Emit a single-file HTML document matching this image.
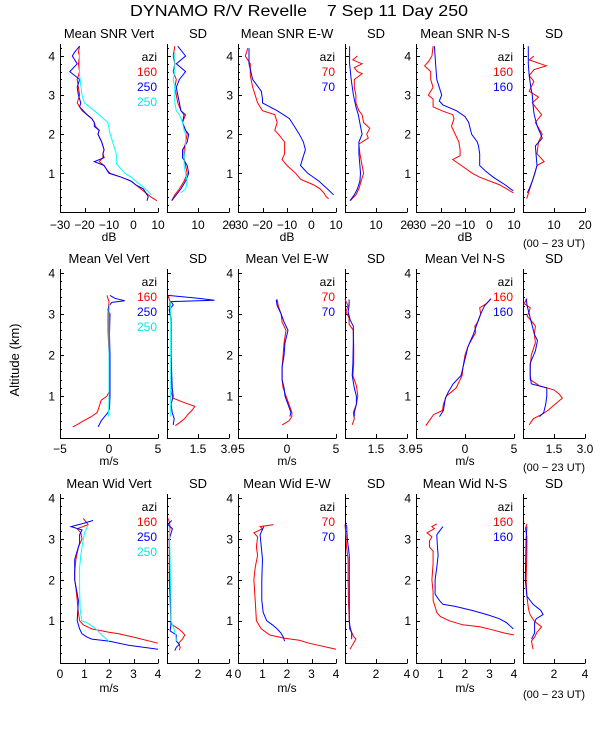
<!DOCTYPE html>
<html><head><meta charset="utf-8"><style>
html,body{margin:0;padding:0;background:#fff;}
svg{display:block;font-family:"Liberation Sans",sans-serif;}
</style></head><body>
<svg id="chart" width="600" height="750" viewBox="0 0 600 750" xmlns="http://www.w3.org/2000/svg">
<rect width="600" height="750" fill="#fff"/>
<text x="130" y="16" font-size="16" style="white-space:pre" textLength="338" lengthAdjust="spacingAndGlyphs">DYNAMO R/V Revelle    7 Sep 11 Day 250</text>
<text transform="translate(19,360) rotate(-90)" text-anchor="middle" font-size="13">Altitude (km)</text>
</svg>
<script>
// ---------- data: altitude (km) arrays and value arrays ----------
// Row 1: SNR (dB) and SD
const snrVertAlt160=[4.25,4.1,4.0,3.8,3.6,3.4,3.2,3.0,2.8,2.7,2.6,2.5,2.4,2.3,2.2,2.1,2.0,1.8,1.6,1.5,1.4,1.3,1.2,1.1,1.0,0.9,0.8,0.7,0.6,0.5,0.4,0.3];
const snrVert160=[-22,-22.5,-22,-22.5,-22,-23,-22.5,-22,-23,-22,-21,-19,-17,-16,-15.5,-14,-14.5,-13,-12,-12.5,-12.5,-14,-12,-11,-9.5,-5,-1,1,3,5,7,9.5];
const snrVertAlt250=[4.25,4.1,4.0,3.8,3.6,3.4,3.2,3.0,2.8,2.7,2.6,2.5,2.4,2.3,2.2,2.1,2.0,1.8,1.6,1.5,1.4,1.3,1.2,1.1,1.0,0.9,0.8,0.7,0.6,0.5,0.4,0.3];
const snrVert250=[-22,-24,-25,-23,-26,-22,-23,-22.5,-21.5,-22,-20.5,-19,-17,-16,-16,-14,-14.5,-13,-12,-12.5,-12,-16,-12,-11,-10,-5,-1,1,4,5,6,5.5];
const snrVertAltC=[4.1,3.5,3.0,2.8,2.7,2.6,2.5,2.3,2.0,1.7,1.5,1.25,1.1,1.0,0.9,0.8,0.65,0.5,0.45];
const snrVertC=[-22,-22,-21,-20,-18,-16,-14,-10.5,-9.5,-8,-7,-7,-5,-3.5,-1,1,4,6.5,7.3];
const sdVertAlt160=[4.25,4.0,3.8,3.6,3.4,3.2,3.0,2.8,2.6,2.5,2.3,2.1,2.0,1.8,1.6,1.4,1.2,1.0,0.8,0.6,0.45,0.3];
const sdVert160=[2.5,2,2.5,2,3,2.5,3,3.5,4.5,6,5,6,6.5,6,5.5,5.5,6,6.5,5.5,4,2.5,1.5];
const sdVert250=[3.5,6,3,6,4,3,3.5,4,4.5,5.5,5,6,7,6.5,5,5,6.5,7,6,4.5,3,1.5];
const sdVertAltC=[4.1,3.8,3.6,3.4,3.2,3.0,2.8,2.6,2.5,2.3,2.1,2.0,1.8,1.6,1.4,1.2,1.0,0.8,0.6,0.5];
const sdVertC=[2.5,2.5,2.5,2,2.5,2.5,2.5,3,4,5,5.5,6,6,6,5.5,5.5,6,6.5,6,4.5];
const snrEWAltR=[4.2,4.0,3.8,3.5,3.2,3.0,2.8,2.6,2.5,2.3,2.1,2.0,1.8,1.5,1.35,1.2,1.0,0.85,0.7,0.6,0.5,0.4,0.35];
const snrEWR=[-26,-27,-25,-25,-24,-23,-22,-20,-15,-14,-15,-13.5,-11,-11,-12,-10,-6.5,-4.5,1,3.5,5,6,7];
const snrEWAltB=[4.2,3.8,3.4,3.1,2.9,2.8,2.6,2.4,2.2,2.0,1.8,1.6,1.4,1.2,1.1,1.0,0.8,0.6,0.45];
const snrEWB=[-25.5,-25.5,-24,-20.5,-20,-20,-14,-9,-7,-5,-3.3,-2.5,-3.5,-4.5,-3,-1.5,3,6.5,9];
const sdEWAltR=[4.0,3.9,3.8,3.7,3.6,3.55,3.4,3.2,3.0,2.8,2.6,2.5,2.3,2.15,2.0,1.9,1.75,1.5,1.2,1.0,0.8,0.6,0.45,0.3];
const sdEWR=[4,2.5,5.5,3,4,5.5,3,3,3.5,3.5,4.5,5.5,6,8,7,7.5,4.5,4.8,5.5,6,5.2,4.5,3.5,1.7];
const sdEWAltB=[4.25,3.8,3.4,3.0,2.7,2.5,2.2,2.0,1.8,1.5,1.2,1.0,0.8,0.6,0.45,0.3];
const sdEWB=[1.5,1.5,2,2.7,3.5,4.3,5,5.5,4.5,4.5,4.8,5,4.8,4,3,1.6];
const snrNSAltR=[4.25,4.0,3.85,3.75,3.6,3.4,3.2,3.0,2.9,2.7,2.6,2.5,2.4,2.2,2.0,1.8,1.6,1.45,1.35,1.2,1.0,0.9,0.7,0.5];
const snrNSR=[-23,-23.5,-25,-26.5,-24,-24,-23,-25,-23,-23,-19.5,-15,-14.5,-15.5,-14,-12.5,-12,-12,-15,-11.5,-7,-4,4.3,9.7];
const snrNSAltB=[4.25,3.8,3.4,3.1,3.0,2.85,2.75,2.6,2.45,2.3,2.0,1.8,1.7,1.5,1.2,1.05,0.9,0.8,0.7,0.55];
const snrNSB=[-22.5,-22,-21.5,-20,-19.5,-20.5,-19,-13.5,-10,-8.5,-7.3,-5,-4.5,-4,-4,-1.5,1.5,4,6.5,9.7];
const sdNSAltR=[4.0,3.9,3.75,3.65,3.5,3.35,3.1,2.95,2.8,2.5,2.3,2.0,1.8,1.5,1.3,1.2,1.0,0.8,0.6,0.35];
const sdNSR=[3.5,2,7.5,3.5,2,3.5,2,5,3,6,4,6.2,5,4.5,6.8,4.5,3.8,3,2.2,1.2];
const sdNSAltB=[4.25,3.8,3.5,3.2,3.0,2.7,2.5,2.2,2.0,1.9,1.7,1.5,1.2,1.0,0.8,0.6,0.5];
const sdNSB=[1.7,1.7,2,2.5,3,3.3,3.6,4.6,5.7,6.2,4,4.2,4.5,3.8,3,2,1.4];
// Row 2: velocity (m/s) and SD
const velVertAltR=[3.45,3.3,3.0,2.6,2.0,1.5,1.1,1.0,0.9,0.75,0.6,0.5,0.4,0.3,0.25];
const velVertR=[-0.2,0,-0.1,-0.1,0,0,0,-0.2,-0.8,-1,-1.2,-1.8,-2.6,-3.3,-3.7];
const velVertAltB=[3.45,3.38,3.32,3.28,3.2,3.1,3.0,2.5,2.0,1.5,1.0,0.7,0.6,0.5,0.4,0.25];
const velVertB=[0.1,0.6,1.6,0.3,0,-0.1,0.1,0.05,0.1,0.1,0.1,0.05,-0.1,-0.45,-0.8,-1.1];
const velVertAltC=[3.33,3.0,2.0,1.0,0.5];
const velVertC=[0.05,0,0,0,-0.05];
const vsdVertAltR=[3.45,3.3,3.1,2.8,2.0,1.5,1.1,0.95,0.85,0.75,0.65,0.55,0.45,0.35,0.28];
const vsdVertR=[0.05,0.15,0.12,0.2,0.2,0.2,0.2,0.3,0.8,1.35,1.2,1.0,0.85,0.6,0.4];
const vsdVertAltB=[3.45,3.38,3.33,3.3,3.22,3.1,2.9,2.0,1.2,1.0,0.8,0.6,0.45,0.3];
const vsdVertB=[0.05,1.5,2.3,0.2,0.3,0.1,0.2,0.2,0.25,0.3,0.2,0.25,0.35,0.3];
const vsdVertAltC=[3.3,2.0,1.0,0.5];
const vsdVertC=[0.18,0.18,0.18,0.18];
const velEWAltR=[3.35,3.2,3.0,2.8,2.6,2.3,2.0,1.7,1.4,1.2,1.0,0.8,0.6,0.5,0.4,0.3];
const velEWR=[-1,-0.9,-0.6,-0.5,-0.1,-0.3,-0.4,-0.5,-0.5,-0.4,-0.1,0.2,0.5,0.5,0.2,-0.5];
const velEWAltB=[3.35,3.2,3.0,2.8,2.6,2.3,2.0,1.7,1.4,1.2,1.0,0.8,0.6,0.5];
const velEWB=[-1.1,-1,-0.6,-0.3,0.1,-0.2,-0.3,-0.5,-0.5,-0.3,-0.2,0.1,0.4,0.3];
const vsdEWAltR=[3.35,3.2,3.05,2.9,2.75,2.6,2.2,1.8,1.5,1.25,1.0,0.8,0.6,0.45,0.3];
const vsdEWR=[0.0,0.15,0.05,0.2,0.2,0.4,0.42,0.42,0.38,0.55,0.62,0.55,0.4,0.45,0.35];
const vsdEWAltB=[3.35,3.2,3.05,2.85,2.7,2.3,1.8,1.5,1.2,1.0,0.8,0.6,0.5];
const vsdEWB=[0.2,0.2,0.15,0.25,0.4,0.4,0.38,0.35,0.45,0.55,0.55,0.45,0.45];
const velNSAltR=[3.37,3.25,3.15,3.0,2.8,2.7,2.55,2.3,2.2,2.0,1.7,1.5,1.4,1.2,1.0,0.8,0.65,0.55,0.45,0.35,0.28];
const velNSR=[2.65,2.2,1.5,1.6,1.3,1.0,1.1,0.5,0.3,0,-0.2,-0.3,-0.5,-0.9,-1.9,-2.2,-2.3,-3.2,-3.5,-3.8,-4];
const velNSAltB=[3.37,3.2,3.0,2.8,2.5,2.2,2.0,1.7,1.5,1.3,1.1,0.95,0.8,0.65,0.5];
const velNSB=[2.65,2.0,1.6,1.3,0.85,0.3,0.1,-0.2,-0.4,-1.2,-1.7,-2,-2.1,-2.2,-2.6];
const vsdNSAltR=[3.37,3.25,3.15,3.05,2.95,2.8,2.7,2.5,2.3,2.0,1.7,1.4,1.25,1.15,1.05,0.95,0.8,0.65,0.55,0.45,0.3];
const vsdNSR=[0.2,0.05,0.35,0.3,0.2,0.45,0.6,0.55,0.6,0.4,0.35,0.35,0.8,1.5,1.75,1.9,1.55,1.2,0.9,0.5,0.3];
const vsdNSAltB=[3.37,3.2,3.0,2.8,2.5,2.35,2.1,1.8,1.5,1.3,1.2,1.0,0.8,0.6,0.5];
const vsdNSB=[0.15,0.2,0.3,0.4,0.55,0.7,0.6,0.35,0.35,0.4,1.15,1.15,1.1,1.0,0.8];
// Row 3: width (m/s) and SD
const widVertAltR=[3.5,3.35,3.25,3.15,3.0,2.8,2.5,2.2,2.0,1.8,1.5,1.2,1.0,0.9,0.8,0.72,0.68,0.6,0.45];
const widVertR=[0.95,1.15,0.7,0.85,0.9,0.75,0.65,0.6,0.6,0.65,0.7,0.75,0.8,0.95,1.3,2,2.4,3.0,4.0];
const widVertAltB=[3.45,3.38,3.3,3.22,3.1,2.9,2.5,2.0,1.5,1.0,0.8,0.68,0.6,0.55,0.5,0.4,0.3];
const widVertB=[1.35,0.95,0.45,0.9,0.8,0.8,0.6,0.6,0.75,0.7,0.8,0.9,1.1,1.3,2.0,2.8,4.0];
const widVertAltC=[3.35,3.15,2.8,2.6,2.3,1.8,1.3,1.0,0.95,0.85,0.75,0.65,0.5];
const widVertC=[1.15,1.0,0.9,0.85,0.8,0.8,0.82,0.88,1.1,1.35,1.55,1.7,2.0];
const wsdVertAltR=[3.5,3.3,3.1,2.5,2.0,1.5,1.0,0.9,0.8,0.72,0.65,0.55,0.45,0.35,0.28];
const wsdVertR=[0.1,0.2,0.15,0.15,0.15,0.2,0.25,0.35,0.75,1.0,1.15,1.0,0.75,0.85,0.8];
const wsdVertAltB=[3.45,3.35,3.25,3.0,2.0,1.1,0.9,0.75,0.65,0.5,0.42,0.35,0.27];
const wsdVertB=[0.3,0.05,0.35,0.15,0.2,0.25,0.25,0.2,0.6,0.6,0.8,0.6,0.5];
const wsdVertAltC=[3.3,2.5,1.5,1.0,0.8,0.65,0.5];
const wsdVertC=[0.15,0.2,0.25,0.25,0.45,0.55,0.6];
const widEWAltR=[3.35,3.3,3.25,3.15,3.05,2.8,2.6,2.3,2.0,1.5,1.0,0.8,0.65,0.57,0.52,0.45,0.3];
const widEWR=[1.45,0.9,1.0,0.65,0.8,0.75,0.8,0.7,0.65,0.7,0.75,0.95,1.3,1.9,2.5,2.9,4.0];
const widEWAltB=[3.3,3.1,2.8,2.5,2.0,1.5,1.2,1.0,0.9,0.8,0.7,0.6,0.5];
const widEWB=[1.05,0.9,0.95,1.0,0.97,0.97,1.03,1.17,1.4,1.6,1.75,1.85,1.9];
const wsdEWAltR=[3.35,3.1,2.8,2.5,2.0,1.5,1.0,0.8,0.7,0.62,0.55,0.45,0.3];
const wsdEWR=[0.0,0.05,0.1,0.2,0.2,0.22,0.28,0.3,0.45,0.55,0.7,0.55,0.32];
const wsdEWAltB=[3.35,3.0,2.6,2.0,1.5,1.0,0.85,0.7,0.55];
const wsdEWB=[0.1,0.15,0.28,0.28,0.28,0.28,0.32,0.43,0.43];
const widNSAltR=[3.37,3.3,3.25,3.15,3.05,2.95,2.8,2.7,2.4,2.0,1.7,1.5,1.3,1.2,1.1,1.0,0.9,0.85,0.78,0.7,0.65];
const widNSR=[0.85,0.65,0.75,0.45,0.65,0.55,0.55,0.7,0.7,0.65,0.7,0.7,0.8,0.85,1.0,1.35,1.9,2.6,3.1,3.6,4.0];
const widNSAltB=[3.3,3.1,2.85,2.6,2.3,2.0,1.65,1.5,1.4,1.35,1.25,1.15,1.05,0.95,0.8];
const widNSB=[1.1,0.85,0.87,0.9,0.85,0.78,0.78,0.95,1.1,1.6,2.3,2.9,3.4,3.7,3.97];
const wsdNSAltR=[3.37,3.25,3.05,2.7,2.0,1.6,1.3,1.15,1.0,0.95,0.85,0.72,0.6,0.5,0.3];
const wsdNSR=[0.25,0.15,0.25,0.25,0.2,0.25,0.35,0.45,0.7,0.85,1.2,0.9,0.75,0.55,0.65];
const wsdNSAltB=[3.3,3.0,2.0,1.6,1.4,1.25,1.15,1.05,0.95,0.7,0.55];
const wsdNSB=[0.25,0.2,0.15,0.25,0.65,1.15,1.3,0.85,0.75,0.75,0.55];

// tick values and labels
const yTicks=[1,2,3,4];
const snrTicks=[-30,-20,-10,0,10];
const snrTickLabels=['\u221230','\u221220','\u221210','0','10'];
const snrSdTicks=[10,20];
const snrSdTickLabels=['10','20'];
const velTicks=[-5,0,5];
const velTickLabels=['\u22125','0','5'];
const velSdTicks=[1.5,3.0];
const velSdTickLabels=['1.5','3.0'];
const widTicks=[0,1,2,3,4];
const widTickLabels=['0','1','2','3','4'];
const widSdTicks=[2,4];
const widSdTickLabels=['2','4'];

// ---------- layout ----------
const svg=document.getElementById('chart');
const NS='http://www.w3.org/2000/svg';
const colX=[[60,158],[167,229],[238,336],[345,407],[416,514],[523,585]];
const rows=[
 {top:44,bot:212,z:212.4,k:39.1,titleY:38,tickY:229,unitY:241,utY:247,leg:57,
  titles:['Mean SNR Vert','SD','Mean SNR E-W','SD','Mean SNR N-S','SD'],unit:'dB'},
 {top:269,bot:438,z:437.2,k:41.1,titleY:263,tickY:453,unitY:465,utY:471,leg:282,
  titles:['Mean Vel Vert','SD','Mean Vel E-W','SD','Mean Vel N-S','SD'],unit:'m/s'},
 {top:494,bot:663,z:661.6,k:40.9,titleY:488,tickY:678,unitY:692,utY:698,leg:507,
  titles:['Mean Wid Vert','SD','Mean Wid E-W','SD','Mean Wid N-S','SD'],unit:'m/s'}];
const domains=[[[-30,10],[0,20]],[[-5,5],[0,3]],[[0,4],[0,4]]];
const tickSets=[[snrTicks,snrSdTicks],[velTicks,velSdTicks],[widTicks,widSdTicks]];
const tickLabelSets=[[snrTickLabels,snrSdTickLabels],[velTickLabels,velSdTickLabels],[widTickLabels,widSdTickLabels]];
const legends=[[['160','250','250'],['70','70'],['160','160']],[['160','250','250'],['70','70'],['160','160']],[['160','250','250'],['70','70'],['160','160']]];
const legColors=['#ff0000','#0000ff','#00e8e8'];
const series=[
 [[[snrVertAlt160,snrVert160,0],[snrVertAlt250,snrVert250,1],[snrVertAltC,snrVertC,2]],
  [[sdVertAlt160,sdVert160,0],[sdVertAlt160,sdVert250,1],[sdVertAltC,sdVertC,2]],
  [[snrEWAltR,snrEWR,0],[snrEWAltB,snrEWB,1]],
  [[sdEWAltR,sdEWR,0],[sdEWAltB,sdEWB,1]],
  [[snrNSAltR,snrNSR,0],[snrNSAltB,snrNSB,1]],
  [[sdNSAltR,sdNSR,0],[sdNSAltB,sdNSB,1]]],
 [[[velVertAltR,velVertR,0],[velVertAltB,velVertB,1],[velVertAltC,velVertC,2]],
  [[vsdVertAltR,vsdVertR,0],[vsdVertAltB,vsdVertB,1],[vsdVertAltC,vsdVertC,2]],
  [[velEWAltR,velEWR,0],[velEWAltB,velEWB,1]],
  [[vsdEWAltR,vsdEWR,0],[vsdEWAltB,vsdEWB,1]],
  [[velNSAltR,velNSR,0],[velNSAltB,velNSB,1]],
  [[vsdNSAltR,vsdNSR,0],[vsdNSAltB,vsdNSB,1]]],
 [[[widVertAltR,widVertR,0],[widVertAltB,widVertB,1],[widVertAltC,widVertC,2]],
  [[wsdVertAltR,wsdVertR,0],[wsdVertAltB,wsdVertB,1],[wsdVertAltC,wsdVertC,2]],
  [[widEWAltR,widEWR,0],[widEWAltB,widEWB,1]],
  [[wsdEWAltR,wsdEWR,0],[wsdEWAltB,wsdEWB,1]],
  [[widNSAltR,widNSR,0],[widNSAltB,widNSB,1]],
  [[wsdNSAltR,wsdNSR,0],[wsdNSAltB,wsdNSB,1]]]];
const lineColors=['#ff0000','#0000ff','#00ffff'];
const seriesNames=['azi-160-a','azi-250-b','azi-250-c'];

function el(tag,attrs,parent,text){
  const e=document.createElementNS(NS,tag);
  for(const k in attrs)e.setAttribute(k,attrs[k]);
  if(text!==undefined)e.textContent=text;
  (parent||svg).appendChild(e);return e;
}

rows.forEach((row,ri)=>{
  const yScale=a=>row.z-a*row.k;
  colX.forEach((cx,ci)=>{
    const isSd=ci%2===1;
    const dom=domains[ri][isSd?1:0];
    const xScale=v=>cx[0]+(v-dom[0])/(dom[1]-dom[0])*(cx[1]-cx[0]);
    const g=el('g',{});
    
    
    const t=el('text',{x:(cx[0]+cx[1])/2,y:row.titleY,'text-anchor':'middle','font-size':13},g,row.titles[ci]);
    
    
    const ax=el('path',{d:`M${cx[0]+0.5},${row.top}V${row.bot+0.5}H${cx[1]+0.5}`,fill:'none',stroke:'#000','stroke-width':1},g);
    
    
    let d='';
    for(let a=0.2;a<=(row.z-row.top)/row.k+1e-6;a+=0.2){
      const y=Math.round(yScale(a))+0.5;
      const major=Math.abs(a-Math.round(a))<1e-6;
      d+=`M${cx[0]},${y}h${major?4:2}`;
    }
    tickSets[ri][isSd?1:0].forEach(v=>{d+=`M${Math.round(xScale(v))+0.5},${row.bot}v-4`;});
    const tk=el('path',{d:d,stroke:'#000','stroke-width':1,fill:'none'},g);
    
    
    if(!isSd){
      yTicks.forEach(v=>{
        const l=el('text',{x:cx[0]-5,y:yScale(v)+4.5,'text-anchor':'end','font-size':12},g,String(v));
        
        
      });
      const u=el('text',{x:(cx[0]+cx[1])/2,y:row.unitY,'text-anchor':'middle','font-size':12},g,row.unit);
      
      
    }
    const tv=tickSets[ri][isSd?1:0], tl=tickLabelSets[ri][isSd?1:0];
    tv.forEach((v,i)=>{
      const l=el('text',{x:xScale(v),y:row.tickY,'text-anchor':'middle','font-size':12},g,tl[i]);
      
      
    });
    if(ci===5){
      const u=el('text',{x:554,y:row.utY,'text-anchor':'middle','font-size':11},g,'(00 \u2212 23 UT)');
      
      
    }
    series[ri][ci].forEach(s=>{
      const alts=s[0],vals=s[1];
      let p='';
      vals.forEach((v,i)=>{p+=(i?'L':'M')+xScale(v).toFixed(1)+','+yScale(alts[i]).toFixed(1);});
      const pl=el('path',{d:p,fill:'none',stroke:lineColors[s[2]],'stroke-width':1},g);
      
      
    });
    if(!isSd){
      const items=legends[ri][ci/2];
      const lx=cx[1]-1;
      const a=el('text',{x:lx,y:row.leg+4,'text-anchor':'end','font-size':12},g,'azi');
      
      
      items.forEach((txt,i)=>{
        const e=el('text',{x:lx,y:row.leg+4+15*(i+1),'text-anchor':'end','font-size':12,fill:legColors[i]},g,txt);
        
        
      });
    }
  });
});
</script>
</body></html>
